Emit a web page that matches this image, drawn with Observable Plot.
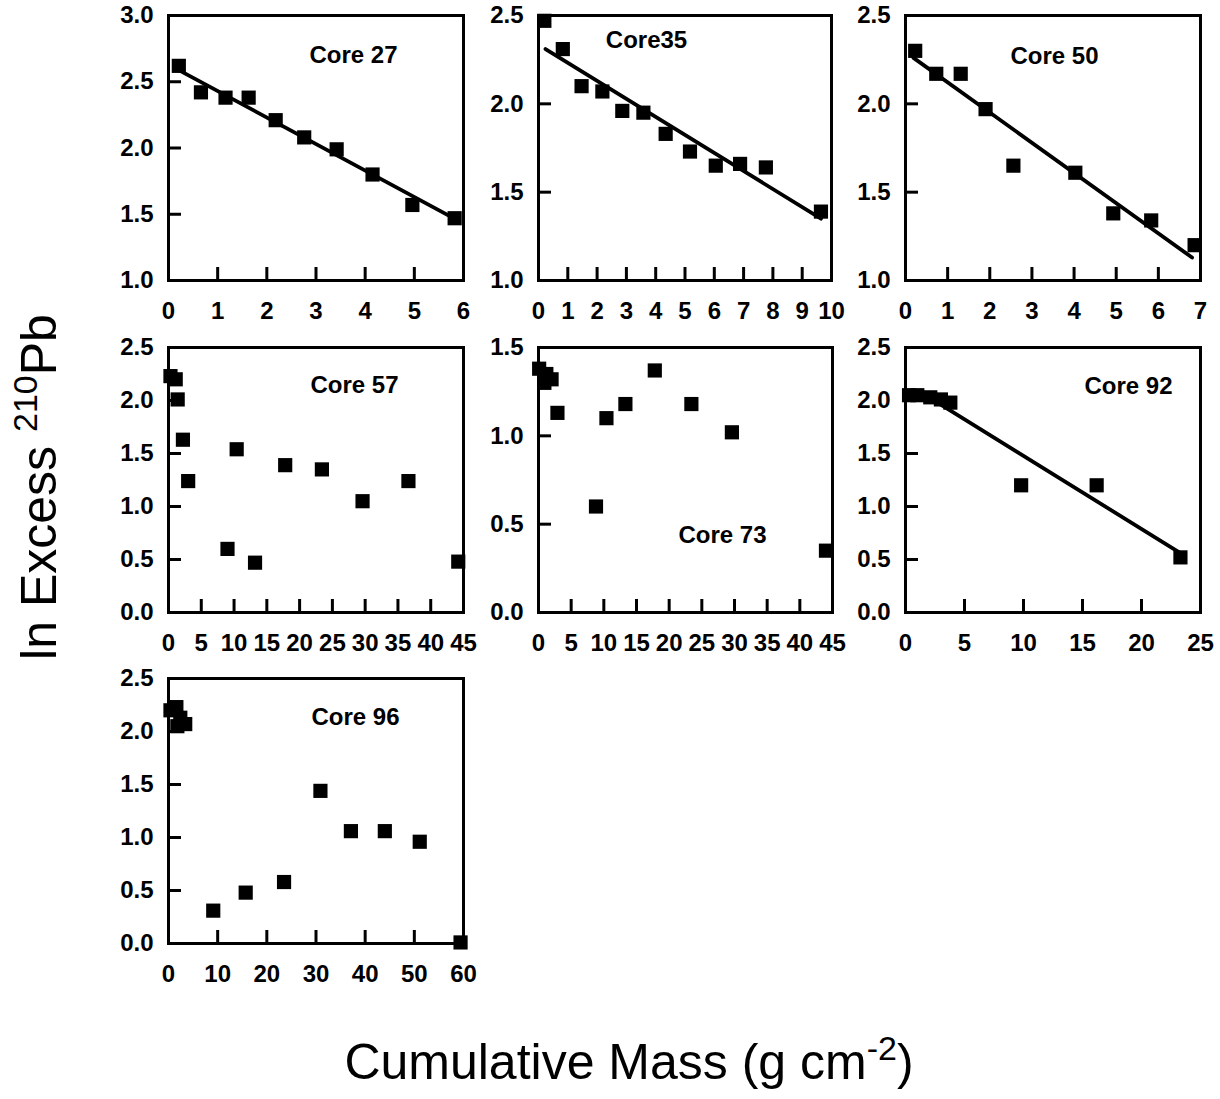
<!DOCTYPE html>
<html>
<head>
<meta charset="utf-8">
<script src="https://cdn.jsdelivr.net/npm/d3@7"></script>
<script src="https://cdn.jsdelivr.net/npm/@observablehq/plot@0.6"></script>
<style>
  html, body { margin: 0; padding: 0; background: #fff; }
  #chart { position: relative; width: 1220px; height: 1099px; overflow: hidden;
           font-family: "Liberation Sans", Arial, Helvetica, sans-serif; color: #000; }
  .panel { position: absolute; }
  .panel svg { max-width: none !important; }
  .ytitle { position: absolute; left: 39px; top: 487px; transform: translate(-50%, -50%) rotate(-90deg);
            font-size: 50px; white-space: nowrap; line-height: 1; }
  .xtitle { position: absolute; left: 629px; top: 1062px; transform: translate(-50%, -50%);
            font-size: 50px; white-space: nowrap; line-height: 1; }
  sup { font-size: 0.68em; vertical-align: 0; position: relative; top: -0.55em; }
</style>
</head>
<body>
<div id="chart">
  <div class="ytitle">ln Excess <sup>210</sup>Pb</div>
  <div class="xtitle">Cumulative Mass (g cm<sup>-2</sup>)</div>
</div>
<script>
// ---------- data ----------
const coreLabels = ["Core 27", "Core35", "Core 50", "Core 57", "Core 73", "Core 92", "Core 96"];

const core27X = [0.21, 0.66, 1.16, 1.63, 2.18, 2.76, 3.42, 4.15, 4.96, 5.82];
const core27Y = [2.62, 2.42, 2.38, 2.38, 2.21, 2.08, 1.99, 1.80, 1.57, 1.47];
const core27FitX = [0.2, 5.9];
const core27FitY = [2.59, 1.45];

const core35X = [0.2, 0.83, 1.47, 2.18, 2.86, 3.58, 4.34, 5.17, 6.05, 6.88, 7.76, 9.64];
const core35Y = [2.47, 2.31, 2.10, 2.07, 1.96, 1.95, 1.83, 1.73, 1.65, 1.66, 1.64, 1.39];
const core35FitX = [0.24, 9.64];
const core35FitY = [2.31, 1.35];

const core50X = [0.23, 0.73, 1.31, 1.90, 2.56, 4.03, 4.93, 5.83, 6.86];
const core50Y = [2.30, 2.17, 2.17, 1.97, 1.65, 1.61, 1.38, 1.34, 1.20];
const core50FitX = [0.19, 6.8];
const core50FitY = [2.26, 1.13];

const core57X = [0.3, 1.1, 1.4, 2.2, 3.0, 9.0, 10.4, 13.2, 17.8, 23.4, 29.6, 36.6, 44.2];
const core57Y = [2.23, 2.20, 2.01, 1.63, 1.24, 0.60, 1.54, 0.47, 1.39, 1.35, 1.05, 1.24, 0.48];

const core73X = [0.1, 0.9, 1.2, 2.0, 2.9, 8.8, 10.4, 13.3, 17.8, 23.4, 29.6, 44.0];
const core73Y = [1.38, 1.30, 1.35, 1.32, 1.13, 0.60, 1.10, 1.18, 1.37, 1.18, 1.02, 0.35];

const core92X = [0.3, 1.0, 2.1, 3.0, 3.8, 9.8, 16.2, 23.3];
const core92Y = [2.05, 2.05, 2.03, 2.01, 1.98, 1.20, 1.20, 0.52];
const core92FitX = [2.0, 23.3];
const core92FitY = [2.03, 0.56];

const core96X = [0.4, 1.6, 1.8, 2.4, 3.4, 9.1, 15.7, 23.5, 30.9, 37.1, 44.0, 51.1, 59.4];
const core96Y = [2.20, 2.23, 2.05, 2.13, 2.07, 0.31, 0.48, 0.58, 1.44, 1.06, 1.06, 0.96, 0.01];

// axis tick values
const xTicks27 = [0, 1, 2, 3, 4, 5, 6];
const xTicks35 = [0, 1, 2, 3, 4, 5, 6, 7, 8, 9, 10];
const xTicks50 = [0, 1, 2, 3, 4, 5, 6, 7];
const xTicks57 = [0, 5, 10, 15, 20, 25, 30, 35, 40, 45];
const xTicks73 = [0, 5, 10, 15, 20, 25, 30, 35, 40, 45];
const xTicks92 = [0, 5, 10, 15, 20, 25];
const xTicks96 = [0, 10, 20, 30, 40, 50, 60];
const yTicks27 = [1.0, 1.5, 2.0, 2.5, 3.0];
const yTicks35 = [1.0, 1.5, 2.0, 2.5];
const yTicks50 = [1.0, 1.5, 2.0, 2.5];
const yTicks57 = [0.0, 0.5, 1.0, 1.5, 2.0, 2.5];
const yTicks73 = [0.0, 0.5, 1.0, 1.5];
const yTicks92 = [0.0, 0.5, 1.0, 1.5, 2.0, 2.5];
const yTicks96 = [0.0, 0.5, 1.0, 1.5, 2.0, 2.5];

// ---------- panel definitions ----------
const panels = [
  {label: coreLabels[0], xs: core27X, ys: core27Y, fx: core27FitX, fy: core27FitY, xt: xTicks27, yt: yTicks27},
  {label: coreLabels[1], xs: core35X, ys: core35Y, fx: core35FitX, fy: core35FitY, xt: xTicks35, yt: yTicks35},
  {label: coreLabels[2], xs: core50X, ys: core50Y, fx: core50FitX, fy: core50FitY, xt: xTicks50, yt: yTicks50},
  {label: coreLabels[3], xs: core57X, ys: core57Y, fx: null, fy: null, xt: xTicks57, yt: yTicks57},
  {label: coreLabels[4], xs: core73X, ys: core73Y, fx: null, fy: null, xt: xTicks73, yt: yTicks73},
  {label: coreLabels[5], xs: core92X, ys: core92Y, fx: core92FitX, fy: core92FitY, xt: xTicks92, yt: yTicks92},
  {label: coreLabels[6], xs: core96X, ys: core96Y, fx: null, fy: null, xt: xTicks96, yt: yTicks96}
];

// layout (pixel placement of each frame and label offset inside it)
const layout = [
  {left: 168, top: 15,  w: 295, h: 265, lx: 185, ly: 40},
  {left: 538, top: 15,  w: 293, h: 265, lx: 108, ly: 25},
  {left: 905, top: 15,  w: 295, h: 265, lx: 149, ly: 41},
  {left: 168, top: 347, w: 295, h: 265, lx: 186, ly: 38},
  {left: 538, top: 347, w: 294, h: 265, lx: 184, ly: 188},
  {left: 905, top: 347, w: 295, h: 265, lx: 223, ly: 39},
  {left: 168, top: 678, w: 295, h: 265, lx: 187, ly: 39}
];

const ML = 70, MR = 30, MT = 15, MB = 50;
const FONT = '"Liberation Sans", Arial, Helvetica, sans-serif';
const TICK_FS = 24, LABEL_FS = 24;
const chart = document.getElementById("chart");

panels.forEach((p, i) => {
  const L = layout[i];
  const xDom = [p.xt[0], p.xt[p.xt.length - 1]];
  const yDom = [p.yt[0], p.yt[p.yt.length - 1]];
  const pts = p.xs.map((x, j) => ({x, y: p.ys[j]}));
  const fit = p.fx ? p.fx.map((x, j) => ({x, y: p.fy[j]})) : [];
  const xIn = p.xt.filter(t => t > xDom[0] && t < xDom[1]);
  const yIn = p.yt.filter(t => t > yDom[0] && t < yDom[1]);
  const tickLen = 13;
  const W = ML + L.w + MR, H = MT + L.h + MB;

  const svg = Plot.plot({
    width: W,
    height: H,
    marginLeft: ML, marginRight: MR, marginTop: MT, marginBottom: MB,
    style: {fontFamily: FONT, fontSize: TICK_FS + "px", fontWeight: "bold", color: "#000",
            background: "transparent", overflow: "visible", maxWidth: "none"},
    x: {domain: xDom, label: null},
    y: {domain: yDom, label: null},
    marks: [
      Plot.axisX(p.xt, {tickSize: 0, tickPadding: 21, fontSize: TICK_FS, fontWeight: "bold", label: null, tickFormat: d => String(d)}),
      Plot.axisY(p.yt, {tickSize: 0, tickPadding: 15, fontSize: TICK_FS, fontWeight: "bold", label: null, tickFormat: d => d.toFixed(1)}),
      Plot.tickX(xIn, {x: d => d, insetTop: L.h - tickLen, stroke: "#000", strokeWidth: 3}),
      Plot.tickY(yIn, {y: d => d, insetRight: L.w - tickLen, stroke: "#000", strokeWidth: 3}),
      Plot.frame({stroke: "#000", strokeWidth: 3}),
      Plot.line(fit, {x: "x", y: "y", stroke: "#000", strokeWidth: 3.8}),
      Plot.dot(pts, {x: "x", y: "y", symbol: "square", r: 8, fill: "#000", stroke: "none"}),
      Plot.text([p.label], {text: d => d, frameAnchor: "top-left", dx: L.lx, dy: L.ly,
        fontSize: LABEL_FS, fontWeight: "bold", textAnchor: "middle", lineAnchor: "middle", fill: "#000"})
    ]
  });

  const div = document.createElement("div");
  div.className = "panel";
  div.style.left = (L.left - ML) + "px";
  div.style.top = (L.top - MT) + "px";
  div.style.width = W + "px";
  div.style.height = H + "px";
  div.appendChild(svg);
  chart.appendChild(div);
});
</script>
</body>
</html>
